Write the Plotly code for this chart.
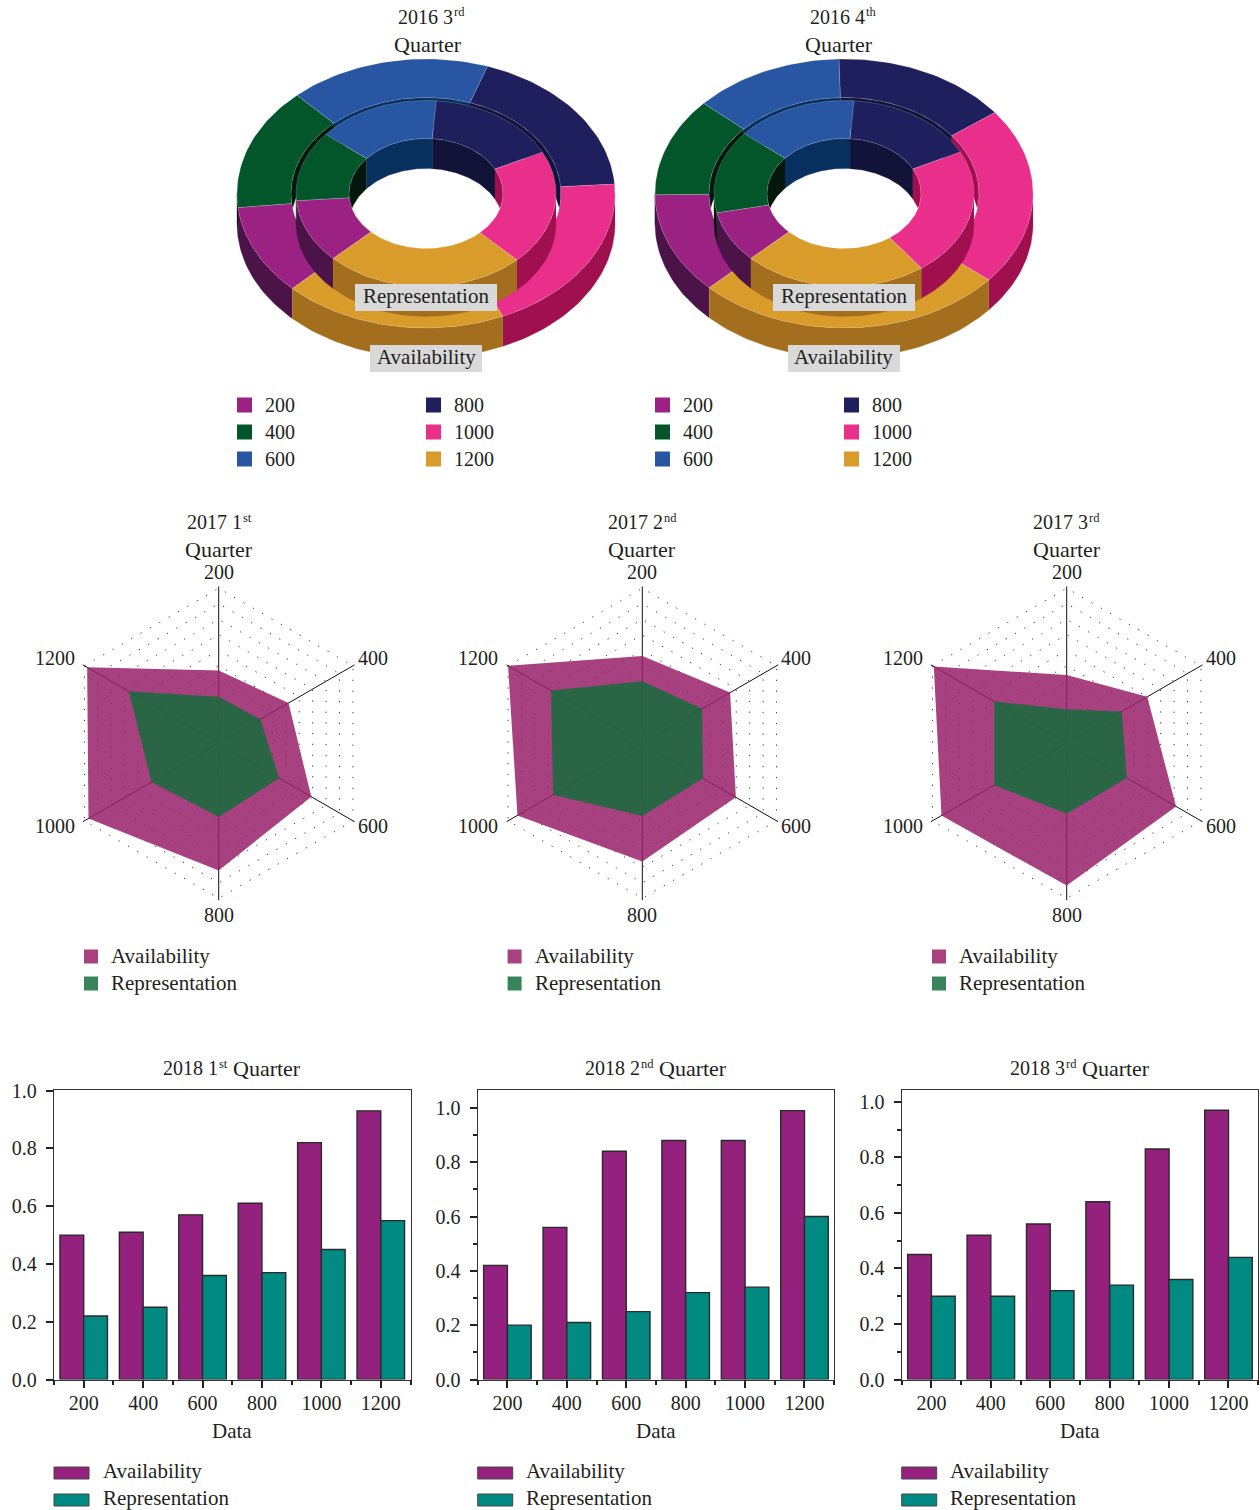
import numpy as np
import plotly.graph_objects as go

W, H = 1260, 1510
FONT = "Liberation Serif"
INK = "#231f20"
WORD = 21
QUARTER = 22

categories = ["200", "400", "600", "800", "1000", "1200"]

# doughnut shares (degrees of the ring per category)
d16q3_availability = [39, 53, 62, 67, 70, 69]
d16q3_representation = [40, 44, 55, 59, 72, 90]
d16q4_availability = [44, 42.6, 46.4, 54.5, 77, 95.5]
d16q4_representation = [32.3, 52, 54.5, 59, 80, 82.2]

# radar values
r17q1_availability = [0.47, 0.52, 0.69, 0.82, 0.97, 0.98]
r17q1_representation = [0.30, 0.31, 0.45, 0.475, 0.50, 0.67]
r17q2_availability = [0.563, 0.654, 0.697, 0.763, 0.93, 1.0]
r17q2_representation = [0.40, 0.445, 0.452, 0.469, 0.665, 0.68]
r17q3_availability = [0.44, 0.60, 0.815, 0.918, 0.933, 0.99]
r17q3_representation = [0.22, 0.41, 0.448, 0.454, 0.54, 0.54]

# bar values
b18q1_availability = [0.50, 0.51, 0.57, 0.61, 0.82, 0.93]
b18q1_representation = [0.22, 0.25, 0.36, 0.37, 0.45, 0.55]
b18q2_availability = [0.42, 0.56, 0.84, 0.88, 0.88, 0.99]
b18q2_representation = [0.20, 0.21, 0.25, 0.32, 0.34, 0.60]
b18q3_availability = [0.45, 0.52, 0.56, 0.64, 0.83, 0.97]
b18q3_representation = [0.30, 0.30, 0.32, 0.34, 0.36, 0.44]

TOP = ["#9b2282", "#03562a", "#2856a3", "#1f1f5e", "#ea2e8c", "#d99c2b"]
SIDE = ["#4c1349", "#03170f", "#08305f", "#111438", "#a0104f", "#a36e1d"]
RADAR_A = "rgba(153,32,105,0.85)"
RADAR_R = "rgba(18,110,58,0.84)"
SW_A, SW_R = "#a8417f", "#38855a"
BAR_A, BAR_R = "#95217f", "#008a82"

fig = go.Figure()
annotations, shapes = [], []


def px(x):
    return x / W


def py(y):
    return 1 - y / H


def text(x, y, s, anchor="center", size=WORD):
    if anchor == "left":
        x -= 1
    annotations.append(dict(xref="paper", yref="paper", x=px(x), y=py(y), text=s, showarrow=False,
                            xanchor=anchor, yanchor="middle", align=anchor,
                            font=dict(family=FONT, size=size, color=INK), borderpad=0))


def year_label(x, y, main, sup, rest=None, rest_x=None):
    """Year and quarter number, raised ordinal suffix just after it, optional word after that."""
    text(x, y, main, "left", 20)
    text(x + 56, y - 4.5, sup, "left", 12.5)
    if rest:
        text(rest_x, y, rest, "left", QUARTER)


def rect(x0, y0, x1, y1, fill, line=None):
    shapes.append(dict(type="rect", xref="paper", yref="paper", x0=px(x0), x1=px(x1), y0=py(y0), y1=py(y1),
                       fillcolor=fill, layer="above",
                       line=dict(width=1 if line else 0, color=line or fill)))


# ---------- doughnuts ----------
CY = 193.5
BOX = 190
DEPTH = 30
OUT = dict(rx=189, ry=134.5, hx=135, hy=96)
INN = dict(rx=130, ry=93, hx=77, hy=55)


def overlap(a, b, lo, hi):
    a0, b0 = max(a, lo), min(b, hi)
    return (a0, b0) if b0 > a0 else None


def poly(xa, ya, xs, ys, color, line=None):
    fig.add_trace(go.Scatter(x=list(xs), y=list(ys), xaxis=xa, yaxis=ya, mode="lines", fill="toself",
                             fillcolor=color, hoverinfo="skip", showlegend=False,
                             line=dict(width=0.6 if line else 0.3, color=line or color)))


def arc(a, b, rx, ry):
    t = np.radians(np.linspace(a, b, max(3, int(abs(b - a) / 1.5))))
    return rx * np.sin(t), ry * np.cos(t)


def ring(xa, ya, shares, start, g):
    edges = start + np.concatenate([[0], np.cumsum(shares)]) * 360.0 / np.sum(shares)
    for i in range(6):
        a, b = edges[i], edges[i + 1]
        # front of the outer rim
        for lo, hi in ((90, 270), (450, 630)):
            o = overlap(a, b, lo, hi)
            if o:
                x, y = arc(o[0], o[1], g["rx"], g["ry"])
                poly(xa, ya, np.r_[x, x[::-1]], np.r_[y, (y - DEPTH)[::-1]], SIDE[i])
        # back of the hole wall
        for lo, hi in ((-90, 90), (270, 450), (630, 810)):
            o = overlap(a, b, lo, hi)
            if o:
                x, y = arc(o[0], o[1], g["hx"], g["hy"])
                poly(xa, ya, np.r_[x, x[::-1]], np.r_[y, np.maximum(y - DEPTH, -y)[::-1]], SIDE[i])
    for i in range(6):
        a, b = edges[i], edges[i + 1]
        x1, y1 = arc(a, b, g["rx"], g["ry"])
        x2, y2 = arc(b, a, g["hx"], g["hy"])
        poly(xa, ya, np.r_[x1, x2, x1[0]], np.r_[y1, y2, y1[0]], TOP[i], "rgba(255,255,255,0.3)")


def doughnut(n, cx, outer, inner, start_out, start_in, main, sup, tx, qx):
    xa, ya = f"x{n}", f"y{n}"
    fig.update_layout({
        f"xaxis{n}": dict(domain=[px(cx - BOX), px(cx + BOX)], range=[-BOX, BOX], visible=False, anchor=ya),
        f"yaxis{n}": dict(domain=[py(CY + BOX), py(CY - BOX)], range=[-BOX, BOX], visible=False, anchor=xa),
    })
    ring(xa, ya, outer, start_out, OUT)
    ring(xa, ya, inner, start_in, INN)
    year_label(tx, 17, main, sup)
    text(qx, 44, "Quarter", "center", QUARTER)
    off = cx - 426
    rect(355 + off, 284, 497 + off, 311, "#d9d9d9")
    text(426 + off, 296, "Representation")
    rect(370 + off, 345, 482 + off, 372, "#d9d9d9")
    text(426 + off, 357, "Availability")
    for i, c in enumerate(categories):
        col, row = divmod(i, 3)
        x0 = 237 + off + col * 189
        yc = 405 + row * 27
        rect(x0, yc - 7.5, x0 + 15, yc + 7.5, TOP[i])
        text(x0 + 28, yc, c, "left", 20)


doughnut(1, 426, d16q3_availability, d16q3_representation, 225, 225.6, "2016 3", "rd", 398.3, 428.3)
doughnut(2, 844, d16q4_availability, d16q4_representation, 225.5, 225.7, "2016 4", "th", 810, 839.3)


# ---------- radars ----------
LABEL_OFFSETS = [(0, 572), (154, 658), (154, 826), (0, 915), (-164, 826), (-164, 658)]
RMAX = 1.012


def radar(n, cx, avail, rep, main, sup, tx):
    cy, R = 743.3, 155 * RMAX
    key = "polar" if n == 1 else f"polar{n}"
    cats = categories + categories[:1]
    for vals, col, name in ((avail, RADAR_A, "Availability"), (rep, RADAR_R, "Representation")):
        fig.add_trace(go.Scatterpolar(r=list(vals) + [vals[0]], theta=cats, subplot=key, mode="lines", fill="toself",
                                      fillcolor=col, line=dict(width=0, color=col), name=name,
                                      showlegend=False, hoverinfo="skip"))
    fig.update_layout({key: dict(
        domain=dict(x=[px(cx - R), px(cx + R)], y=[py(cy + R), py(cy - R)]),
        gridshape="linear", bgcolor="white",
        radialaxis=dict(range=[0, RMAX], tick0=0, dtick=0.1, showticklabels=False, ticks="", showline=False,
                        gridcolor="#444444", griddash="1.3px,9.5px", gridwidth=1.3, layer="below traces"),
        angularaxis=dict(type="category", categoryorder="array", categoryarray=categories, direction="clockwise",
                         rotation=90, showline=False, ticks="", gridcolor="#111111", gridwidth=1.2,
                         layer="below traces", showticklabels=False),
    )})
    for c, (dx, y) in zip(categories, LABEL_OFFSETS):
        text(cx + dx, y, c, "center", 20)
    year_label(tx, 522, main, sup)
    text(cx, 549, "Quarter", "center", QUARTER)
    x0 = cx - 134.7
    for yc, col, name in ((956.5, SW_A, "Availability"), (983.5, SW_R, "Representation")):
        rect(x0, yc - 7, x0 + 14, yc + 7, col)
        text(x0 + 27, yc - 1, name, "left")


radar(1, 218.7, r17q1_availability, r17q1_representation, "2017 1", "st", 186.7)
radar(2, 642.3, r17q2_availability, r17q2_representation, "2017 2", "nd", 608)
radar(3, 1066.7, r17q3_availability, r17q3_representation, "2017 3", "rd", 1033)


# ---------- bars ----------
def bars(n, left, ymax, avail, rep, main, sup, tx, qx, minor_on):
    xa, ya = f"x{n}", f"y{n}"
    pos = list(range(1, 7))
    line = dict(width=1.4, color="#2a2a2a")
    fig.add_trace(go.Bar(x=pos, y=avail, xaxis=xa, yaxis=ya, marker=dict(color=BAR_A, line=line),
                         name="Availability", offsetgroup="a", showlegend=False, hoverinfo="skip"))
    fig.add_trace(go.Bar(x=pos, y=rep, xaxis=xa, yaxis=ya, marker=dict(color=BAR_R, line=line),
                         name="Representation", offsetgroup="r", showlegend=False, hoverinfo="skip"))
    right = left + 356.5
    minor_y = dict(ticks="outside", ticklen=4, tickwidth=1.5, tickcolor="#222", dtick=0.1, showgrid=False) if minor_on \
        else dict(ticks="", showgrid=False)
    fig.update_layout({
        f"xaxis{n}": dict(domain=[px(left), px(right)], range=[0.5, 6.5], anchor=ya, tickmode="array",
                          tickvals=pos, ticktext=categories, ticks="outside", ticklen=7, tickwidth=1.5,
                          tickcolor="#222", showline=True, mirror=True, linecolor="#333", linewidth=1.3,
                          showgrid=False, zeroline=False, ticklabelstandoff=-2,
                          tickfont=dict(family=FONT, size=20, color=INK),
                          minor=dict(tickmode="array", tickvals=[p - 0.5 for p in pos] + [6.5], ticks="outside",
                                     ticklen=4, tickwidth=1.5, tickcolor="#222", showgrid=False)),
        f"yaxis{n}": dict(domain=[py(1379.5), py(1089.5)], range=[0, ymax], anchor=xa, tickmode="linear", tick0=0,
                          dtick=0.2, tickformat=".1f", ticks="outside", ticklen=7, tickwidth=1.5, tickcolor="#222",
                          showline=True, mirror=True, linecolor="#333", linewidth=1.3, showgrid=False, zeroline=False,
                          ticklabelstandoff=5, tickfont=dict(family=FONT, size=20, color=INK), minor=minor_y),
    })
    mid = (left + right) / 2
    year_label(tx, 1068, main, sup, "Quarter", qx)
    text(mid, 1431, "Data")
    for yc, col, name in ((1473, BAR_A, "Availability"), (1500, BAR_R, "Representation")):
        rect(left, yc - 6, left + 35, yc + 6, col, "#444444")
        text(left + 48.5, yc - 2, name, "left")


bars(3, 54, 1.004, b18q1_availability, b18q1_representation, "2018 1", "st", 163.3, 232.7, False)
bars(4, 477.7, 1.0676, b18q2_availability, b18q2_representation, "2018 2", "nd", 585, 659, True)
bars(5, 901.7, 1.0445, b18q3_availability, b18q3_representation, "2018 3", "rd", 1010, 1082, True)

fig.update_layout(width=W, height=H, autosize=False,
                  margin=dict(l=0, r=0, t=0, b=0, autoexpand=False), paper_bgcolor="white",
                  plot_bgcolor="white", barmode="group", bargap=0.2, bargroupgap=0, showlegend=False,
                  font=dict(family=FONT, size=20, color=INK), annotations=annotations, shapes=shapes)

fig.write_html("out.html", post_script="document.body.style.margin='0';", config=dict(displayModeBar=False))
